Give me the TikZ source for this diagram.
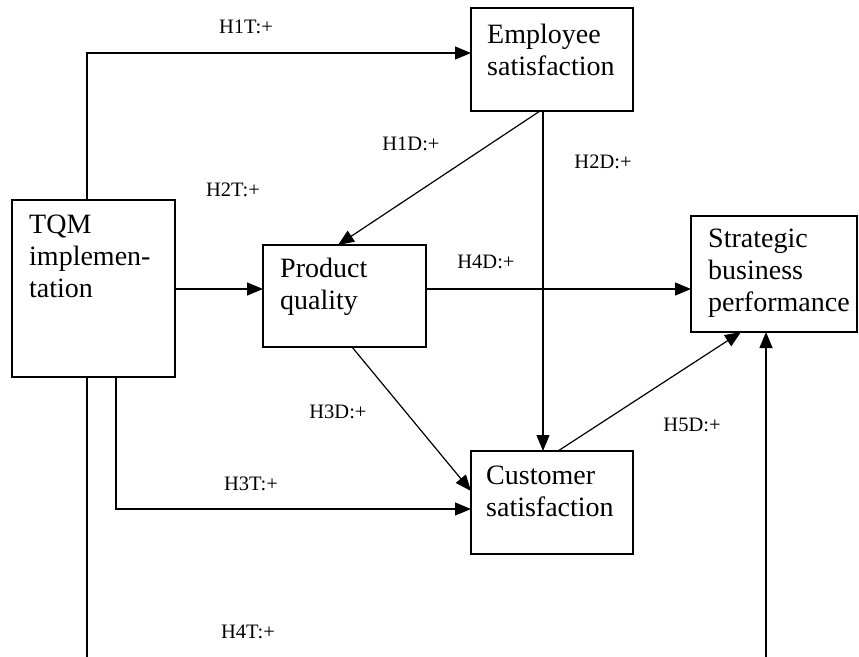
\documentclass[tikz,border=0pt]{standalone}
\usepackage{fontspec}
\setmainfont{Liberation Serif}
\usetikzlibrary{arrows.meta,calc}
\tikzset{
  box/.style={draw=black, line width=1.4pt, inner sep=0pt, outer sep=0pt, anchor=north west},
  boxtext/.style={anchor=north west, inner sep=0pt, align=left, font=\fontsize{28}{32}\selectfont},
  lbl/.style={inner sep=0pt, font=\fontsize{20.5}{24}\selectfont},
  arr/.style={line width=1.2pt, -{Triangle[length=16pt,width=13pt]}},
  ln/.style={line width=1.2pt}
}
\begin{document}
\begin{tikzpicture}[x=1pt,y=-1pt]
\useasboundingbox (0,0) rectangle (859,656);
\clip (0,0) rectangle (859,656);
% boxes
\node[box, minimum width=163pt, minimum height=177pt] (tqm) at (12,200) {};
\node[box, minimum width=162pt, minimum height=103pt] (emp) at (471,8) {};
\node[box, minimum width=163pt, minimum height=102pt] (prod) at (263,245) {};
\node[box, minimum width=166pt, minimum height=116pt] (strat) at (691,216) {};
\node[box, minimum width=162pt, minimum height=103pt] (cust) at (471,451) {};
% box texts
\node[boxtext] (tqmt) at ($(tqm.north west)+(17,15)$) {TQM\\implemen-\\tation};
\node[boxtext] (empt) at ($(emp.north west)+(16,16)$) {Employee\\satisfaction};
\node[boxtext] (prodt) at ($(prod.north west)+(17,13)$) {Product\\quality};
\node[boxtext] (stratt) at ($(strat.north west)+(17,13)$) {Strategic\\business\\performance};
\node[boxtext] (custt) at ($(cust.north west)+(15,15)$) {Customer\\satisfaction};
% connectors
\draw[arr] ($(tqm.north west)+(75,0)$) |- ($(emp.north west)+(0,45)$);
\draw[arr] ($(tqm.north east)+(0,89)$) -- ($(prod.north west)+(0,44)$);
\draw[arr] ($(emp.south west)+(72,0)$) -- ($(cust.north west)+(72,0)$);
\draw[arr] ($(emp.south west)+(69,0)$) -- ($(prod.north west)+(75,0)$);
\draw[arr] ($(prod.north east)+(0,44)$) -- ($(strat.north west)+(0,73)$);
\draw[arr] ($(prod.south west)+(89,0)$) -- ($(cust.north west)+(0,40)$);
\draw[arr] ($(tqm.south west)+(104,0)$) |- ($(cust.north west)+(0,58)$);
\coordinate (bl) at (87,700);
\coordinate (br) at (766,700);
\draw[arr] ($(tqm.south west)+(75,0)$) -- (bl) -- (br) -- ($(strat.south west)+(75,0)$);
\draw[arr] ($(cust.north west)+(87,0)$) -- ($(strat.south west)+(50,0)$);
% labels
\node[lbl] (h1t) at (246,27) {H1T:+};
\node[lbl] (h1d) at (411,144) {H1D:+};
\node[lbl] (h2d) at (603,162) {H2D:+};
\node[lbl] (h2t) at (233,190) {H2T:+};
\node[lbl] (h4d) at (486,262) {H4D:+};
\node[lbl] (h3d) at (338,412) {H3D:+};
\node[lbl] (h5d) at (692,425) {H5D:+};
\node[lbl] (h3t) at (251,484) {H3T:+};
\node[lbl] (h4t) at (248,632) {H4T:+};
\end{tikzpicture}
\end{document}
